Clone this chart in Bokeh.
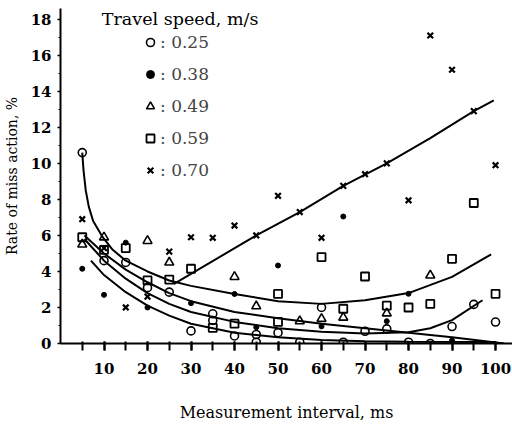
from bokeh.plotting import figure
from bokeh.models import FixedTicker, Legend, LegendItem, Range1d, Label
from bokeh.embed import file_html
from bokeh.resources import INLINE

# ---- data ----
legend_title = "Travel speed, m/s"
speed_labels = [": 0.25", ": 0.38", ": 0.49", ": 0.59", ": 0.70"]

x_025 = [5, 10, 15, 20, 25, 30, 35, 35, 40, 45, 45, 50, 55, 60, 65, 70, 75, 80, 85, 90, 95, 100]
y_025 = [10.6, 4.6, 4.5, 3.1, 2.85, 0.7, 1.65, 1.28, 0.42, 0.5, 0.07, 0.6, 0.07, 2.0, 0.07, 0.68, 0.81, 0.07, 0.0, 0.94, 2.17, 1.19]

x_038 = [5, 10, 15, 20, 30, 40, 45, 50, 60, 65, 75, 80, 90]
y_038 = [4.15, 2.7, 5.6, 2.0, 2.24, 2.75, 0.9, 4.33, 0.95, 7.05, 1.24, 2.76, 0.17]

x_049 = [5, 10, 20, 25, 40, 45, 55, 60, 65, 75, 85]
y_049 = [5.5, 5.9, 5.7, 4.5, 3.7, 2.07, 1.24, 1.37, 1.44, 1.68, 3.78]

x_059 = [5, 10, 15, 20, 25, 30, 35, 40, 50, 50, 60, 65, 70, 75, 80, 85, 90, 95, 100]
y_059 = [5.9, 5.2, 5.3, 3.5, 3.55, 4.15, 0.87, 1.1, 2.75, 1.2, 4.8, 1.93, 3.72, 2.1, 2.0, 2.2, 4.7, 7.8, 2.76]

x_070 = [5, 10, 15, 20, 25, 30, 35, 40, 45, 50, 55, 60, 65, 70, 75, 80, 85, 90, 95, 100]
y_070 = [6.9, 5.3, 2.0, 2.6, 5.1, 5.9, 5.87, 6.55, 6.0, 8.2, 7.3, 5.87, 8.75, 9.4, 10.0, 7.95, 17.1, 15.2, 12.9, 9.9]

# fitted curves
c1_x = [5, 5.3, 5.8, 6.5, 7.5, 9.7, 12, 15, 20, 25, 30, 40, 50, 60, 70, 80, 90, 99]
c1_y = [10.6, 9.6, 8.5, 7.6, 6.8, 5.9, 5.2, 4.6, 4.0, 3.5, 3.2, 2.75, 2.35, 2.2, 2.4, 2.8, 3.7, 4.95]

c2_x = [5.5, 10, 15, 20, 25, 30, 40, 50, 60, 70, 80, 85, 90, 97]
c2_y = [5.8, 4.6, 3.6, 2.8, 2.2, 1.75, 1.2, 0.85, 0.65, 0.55, 0.62, 0.85, 1.3, 2.4]

c3_x = [5.5, 10, 15, 20, 25, 30, 40, 50, 60, 70, 80, 90, 102]
c3_y = [6.0, 5.0, 4.1, 3.4, 2.8, 2.35, 1.75, 1.4, 1.1, 0.85, 0.6, 0.35, 0.0]

c4_x = [7, 10, 15, 20, 25, 30, 40, 50, 60, 70, 80, 100]
c4_y = [4.6, 3.8, 2.85, 2.1, 1.55, 1.1, 0.6, 0.35, 0.2, 0.12, 0.1, 0.08]

c5_x = [26, 45, 55, 65, 75, 85, 95, 99.6]
c5_y = [3.3, 6.0, 7.3, 8.75, 10.0, 11.4, 12.9, 13.5]

x_major = [10, 20, 30, 40, 50, 60, 70, 80, 90, 100]
x_minor = list(range(5, 105, 5))
y_major = [0, 2, 4, 6, 8, 10, 12, 14, 16, 18]
y_minor = list(range(0, 19))

FONT = "DejaVu Serif"

p = figure(width=512, height=427, output_backend="svg", toolbar_location=None,
           x_range=Range1d(0, 103.9), y_range=Range1d(0, 18.6),
           min_border_left=60, min_border_right=0, min_border_top=8, min_border_bottom=84)
p.grid.visible = False
p.outline_line_color = None
p.background_fill_color = "white"
p.border_fill_color = "white"

xa = p.xaxis[0]
xa.ticker = FixedTicker(ticks=x_major, minor_ticks=x_minor)
xa.axis_line_width = 2
xa.major_tick_line_width = 2
xa.minor_tick_line_width = 2
xa.major_tick_out = 7
xa.major_tick_in = 2
xa.minor_tick_out = 7
xa.minor_tick_in = 2
xa.major_label_standoff = 12
xa.major_label_text_font = FONT
xa.major_label_text_font_style = "bold"
xa.major_label_text_font_size = "15px"
xa.major_label_text_color = "black"
xa.axis_label = "Measurement interval, ms"
xa.axis_label_text_font = FONT
xa.axis_label_text_font_style = "normal"
xa.axis_label_text_font_size = "16px"
xa.axis_label_standoff = 26
xa.axis_label_text_color = "black"

ya = p.yaxis[0]
ya.ticker = FixedTicker(ticks=y_major, minor_ticks=y_minor)
ya.axis_line_width = 2
ya.major_tick_line_width = 1.5
ya.minor_tick_line_width = 1
ya.major_tick_out = 3
ya.major_tick_in = 0
ya.minor_tick_out = 2
ya.minor_tick_in = 0
ya.major_label_standoff = 6
ya.major_label_text_font = FONT
ya.major_label_text_font_style = "bold"
ya.major_label_text_font_size = "15px"
ya.major_label_text_color = "black"
ya.axis_label = "Rate of miss action, %"
ya.axis_label_text_font = FONT
ya.axis_label_text_font_style = "normal"
ya.axis_label_text_font_size = "14px"
ya.axis_label_standoff = 8
ya.axis_label_text_color = "black"

# curves
for cx, cy in [(c1_x, c1_y), (c2_x, c2_y), (c3_x, c3_y), (c4_x, c4_y), (c5_x, c5_y)]:
    p.line(cx, cy, line_color="black", line_width=2)

r1 = p.scatter(x_025, y_025, marker="circle", size=8, line_color="black", line_width=1.6, fill_color=None)
r2 = p.scatter(x_038, y_038, marker="circle", size=5, line_color="black", fill_color="black")
r3 = p.scatter(x_049, y_049, marker="triangle", size=9, line_color="black", line_width=1.6, fill_color=None)
r4 = p.scatter(x_059, y_059, marker="square", size=8, line_color="black", line_width=1.8, fill_color=None)
r5 = p.scatter(x_070, y_070, marker="x", size=8, line_color="black", line_width=2.2)

legend = Legend(items=[LegendItem(label=lab, renderers=[r]) for lab, r in
                       zip(speed_labels, [r1, r2, r3, r4, r5])],
                location=(80, 163))
legend.label_text_font = FONT
legend.label_text_font_size = "17px"
legend.glyph_width = 20
legend.glyph_height = 20
legend.label_height = 20
legend.spacing = 12
legend.label_standoff = 0
legend.padding = 0
legend.margin = 0
legend.border_line_color = None
legend.background_fill_alpha = 0
p.add_layout(legend)

title_lbl = Label(x=9.5, y=18.0, text=legend_title, text_font=FONT, text_font_size="17.5px",
                  text_baseline="middle", text_align="left", text_color="black")
p.add_layout(title_lbl)

open("out.html", "w").write(file_html(p, INLINE))
